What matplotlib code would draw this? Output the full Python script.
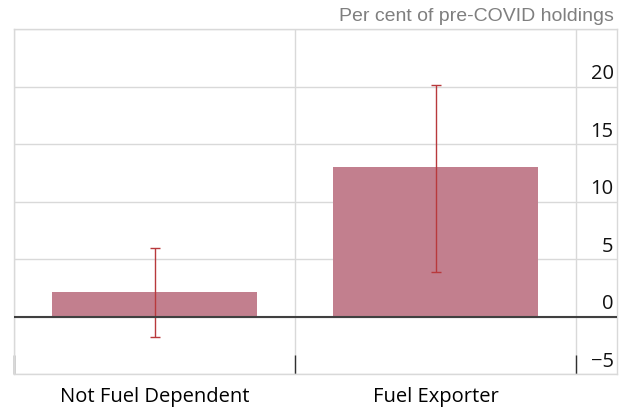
import matplotlib.pyplot as plt

categories = ["Not Fuel Dependent", "Fuel Exporter"]
values = [2.15, 13.0]
err_low = [-1.75, 3.9]
err_high = [6.0, 20.1]
yticks = [-5, 0, 5, 10, 15, 20]

bar_color = "#c27f8e"
err_color = "#b8393c"
grid_color = "#d9d9d9"

fig = plt.figure(figsize=(6.25, 4.1), dpi=100)
ax = fig.add_axes([14 / 625, 1 - 375 / 410, 603 / 625, 345 / 410])

x = range(len(categories))
yerr = [[v - lo for v, lo in zip(values, err_low)],
        [hi - v for v, hi in zip(values, err_high)]]
ax.bar(x, values, width=0.73, color=bar_color, zorder=2)
ax.errorbar(x, values, yerr=yerr, fmt="none", ecolor=err_color,
            elinewidth=1, capsize=3.7, capthick=1, zorder=3)
ax.axhline(0, color="#404040", lw=1.5, zorder=4)

ax.set_xlim(-0.5, 1.645)
ax.set_ylim(-5, 25)

ax.set_xticks(list(x))
ax.set_xticklabels(categories, fontsize=14.5, family="Open Sans")
ax.tick_params(axis="x", which="major", length=0, pad=9)
ax.set_xticks([-0.5, 0.5, 1.5], minor=True)
ax.tick_params(axis="x", which="minor", direction="in", length=14,
               width=1, color="#303030")
ax.grid(axis="x", which="minor", color=grid_color, lw=1, zorder=0)

ax.set_yticks(yticks + [25])
ax.set_yticklabels([])
ax.tick_params(axis="y", length=0)
ax.grid(axis="y", which="major", color=grid_color, lw=1, zorder=0)
for t in yticks:
    label = str(t).replace("-", "\u2212")
    ax.text(1.633, t + 0.3, label, ha="right", va="bottom",
            fontsize=14.5, family="Open Sans", color="#111111")

for s in ax.spines.values():
    s.set_color(grid_color)
    s.set_linewidth(1)

ax.text(1.635, 25.4, "Per cent of pre-COVID holdings", ha="right",
        va="bottom", fontsize=14, family="Liberation Sans", color="#7f7f7f")

fig.savefig("out.png", dpi=100)
